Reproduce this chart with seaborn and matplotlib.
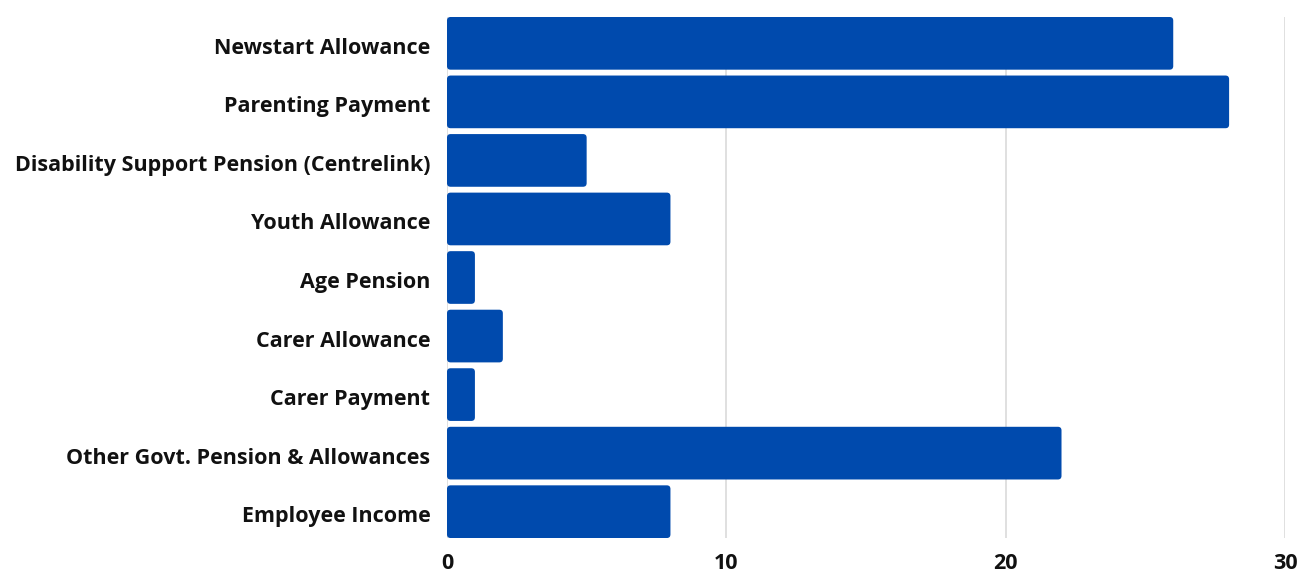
import matplotlib
matplotlib.use("Agg")
import matplotlib.pyplot as plt
import matplotlib.transforms as mtransforms
import seaborn as sns
import pandas as pd
from matplotlib.patches import FancyBboxPatch

categories = [
    "Newstart Allowance",
    "Parenting Payment",
    "Disability Support Pension (Centrelink)",
    "Youth Allowance",
    "Age Pension",
    "Carer Allowance",
    "Carer Payment",
    "Other Govt. Pension & Allowances",
    "Employee Income",
]
values = [26, 28, 5, 8, 1, 2, 1, 22, 8]
x_ticks = [0, 10, 20, 30]

sns.set_theme(style="white")
plt.rcParams["font.family"] = ["Open Sans", "DejaVu Sans"]

df = pd.DataFrame({"category": categories, "value": values})

fig = plt.figure(figsize=(12.99, 5.72), dpi=100)
ax = fig.add_axes([0.3441, 0.0594, 0.9892 - 0.3441, 0.9703 - 0.0594])

sns.barplot(data=df, x="value", y="category", color="#004AAD", width=0.9,
            saturation=1, ax=ax, zorder=3)

# round the bar corners
patches = list(ax.patches)
for p in patches:
    x0, y0, w, h = p.get_x(), p.get_y(), p.get_width(), p.get_height()
    fb = FancyBboxPatch((x0, y0), w, h,
                        boxstyle="round,pad=0,rounding_size=0.13",
                        mutation_aspect=0.477,
                        facecolor="#004AAD", edgecolor="none", zorder=3)
    p.remove()
    ax.add_patch(fb)

ax.set_xlim(0, 30)
ax.set_ylim(8.45, -0.45)
ax.set_xticks(x_ticks)
ax.set_xticklabels([str(t) for t in x_ticks])
ax.grid(axis="x", color="#dddddd", linewidth=1.3, zorder=0)
ax.grid(axis="y", visible=False)
for s in ax.spines.values():
    s.set_visible(False)
ax.tick_params(axis="both", length=0)
ax.tick_params(axis="y", pad=12)
ax.tick_params(axis="x", pad=11)
for lbl in ax.get_yticklabels() + ax.get_xticklabels():
    lbl.set_fontsize(15.5)
    lbl.set_fontweight("bold")
    lbl.set_color("#111111")
offset = mtransforms.ScaledTranslation(0, -2.5 / 100, fig.dpi_scale_trans)
for lbl in ax.get_yticklabels():
    lbl.set_transform(lbl.get_transform() + offset)
ax.set_xlabel("")
ax.set_ylabel("")

fig.savefig("out.png", dpi=100)
